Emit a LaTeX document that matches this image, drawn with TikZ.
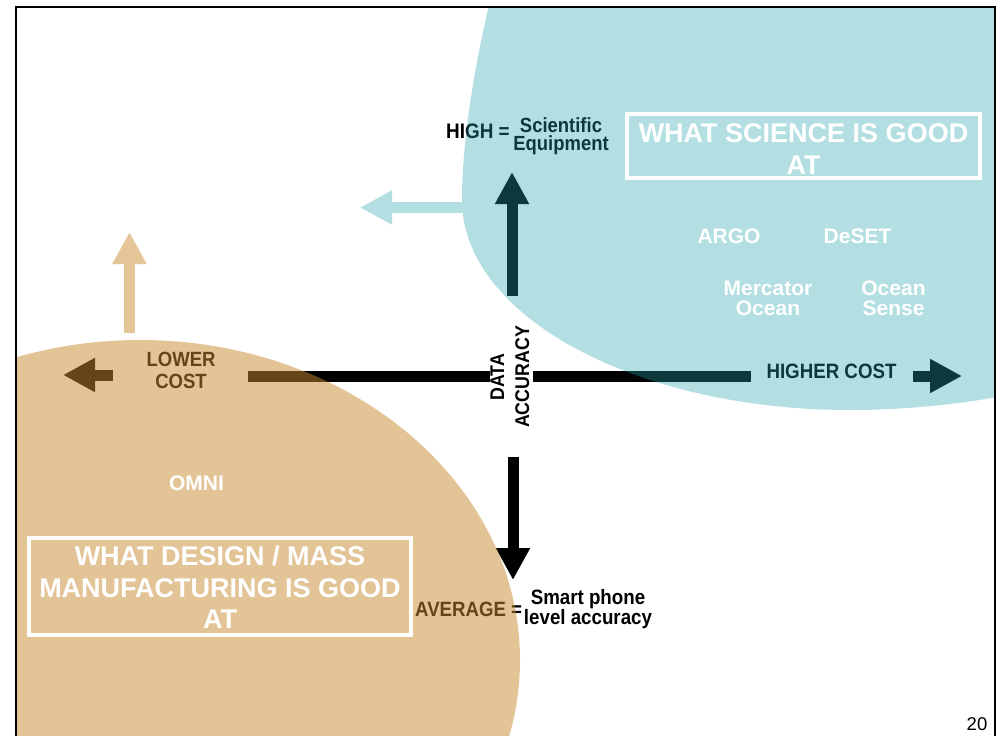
\documentclass[tikz,border=0pt]{standalone}
\usepackage{fontspec}
\setmainfont{Liberation Sans}
\newfontfamily\cnd[FakeStretch=0.9]{Liberation Sans}
\usetikzlibrary{arrows.meta}
\definecolor{tanfill}{RGB}{201,139,49}
\definecolor{tealfill}{RGB}{38,164,175}
\definecolor{tanlight}{RGB}{228,197,152}
\definecolor{teallight}{RGB}{179,223,227}
\begin{document}
\begin{tikzpicture}[x=1pt,y=-1pt,
  lab/.style={inner sep=0pt, align=center, text=black},
  wlab/.style={inner sep=0pt, align=center, text=white, font=\bfseries\fontsize{21}{20}\selectfont},
  bigtxt/.style={inner sep=0pt, align=center, text=white},
  whitebox/.style={draw=white, line width=4pt, inner sep=0pt},
  axisbar/.style={line width=11pt, draw=black},
  blockarrow/.style={line width=11pt, -{Triangle[length=32pt 0 0, width=32pt 0 0]}}
]
\useasboundingbox (0,0) rectangle (1004,736);
\fill[white] (0,0) rectangle (1004,736);

% ---- black layer (tinted later by the translucent regions) ----
\coordinate (lA) at (113,375);  \coordinate (lB) at (63,375);
\coordinate (bA) at (248,376);  \coordinate (bB) at (490,376);
\coordinate (cA) at (533,376);  \coordinate (cB) at (751,376);
\coordinate (rA) at (913,376);  \coordinate (rB) at (962,376);
\coordinate (uA) at (512,296);  \coordinate (uB) at (512,172);
\coordinate (dA) at (513,457);  \coordinate (dB) at (513,580);
\draw[blockarrow, draw=black, fill=black] (lA) -- (lB);
\draw[axisbar] (bA) -- (bB);
\draw[axisbar] (cA) -- (cB);
\draw[blockarrow, draw=black, fill=black] (rA) -- (rB);
\draw[blockarrow, draw=black, fill=black] (uA) -- (uB);
\draw[blockarrow, draw=black, fill=black] (dA) -- (dB);

\node[lab, anchor=base west, font=\cnd\bfseries\fontsize{21}{16}\selectfont] (high) at (446,138) {HIGH =};
\node[lab, font=\cnd\bfseries\fontsize{20.5}{17.5}\selectfont] (sci) at (561,136) {Scientific\\Equipment};
\node[lab, font=\cnd\bfseries\fontsize{20.6}{22.3}\selectfont] (lower) at (181,370.5) {LOWER\\COST};
\node[lab, font=\cnd\bfseries\fontsize{20.8}{20}\selectfont] (higher) at (831.5,371.5) {HIGHER COST};
\node[lab, rotate=90, font=\cnd\bfseries\fontsize{19.8}{25}\selectfont] (acc) at (510,377) {DATA\\ACCURACY};
\node[lab, anchor=base west, font=\cnd\bfseries\fontsize{20.7}{20}\selectfont] (avg) at (415,616.7) {AVERAGE =};
\node[lab, font=\cnd\bfseries\fontsize{20.8}{18.3}\selectfont] (smart) at (588,609) {Smart phone\\level accuracy};

% ---- translucent regions ----
\begin{scope}
\clip (16,7) rectangle (995,740);
\fill[tanfill, fill opacity=0.5] (140,660) ellipse [x radius=380, y radius=320];
\fill[tealfill, fill opacity=0.35] (495,-20) .. controls (475,60) and (462,140) .. (462,200)
   .. controls (462,316) and (636,410) .. (850,410)
   .. controls (920,410) and (990,400) .. (1020,392) -- (1020,-20) -- cycle;
\end{scope}

% ---- light arrows ----
\coordinate (tA) at (465,207.5); \coordinate (tB) at (360,207.5);
\coordinate (nA) at (129.5,333); \coordinate (nB) at (129.5,232);
\draw[blockarrow, draw=teallight, fill=teallight] (tA) -- (tB);
\draw[blockarrow, draw=tanlight, fill=tanlight] (nA) -- (nB);

% ---- white labels and boxes ----
\node[wlab, anchor=base] (argo) at (729,243.3) {ARGO};
\node[wlab, anchor=base] (deset) at (857.5,243.3) {DeSET};
\node[wlab] (merc) at (768,298.5) {Mercator\\Ocean};
\node[wlab] (osense) at (893.5,298.5) {Ocean\\Sense};
\node[wlab, anchor=base] (omni) at (196.5,490.6) {OMNI};

\node[whitebox, minimum width=353pt, minimum height=64pt] (scibox) at (803.5,146) {};
\node[bigtxt, font=\bfseries\fontsize{27}{32}\selectfont] (scitxt) at (803.5,149) {WHAT SCIENCE IS GOOD\\AT};
\node[whitebox, minimum width=382pt, minimum height=97pt] (desbox) at (220,586.5) {};
\node[bigtxt, font=\bfseries\fontsize{27}{31.5}\selectfont] (destxt) at (220,587.5) {WHAT DESIGN / MASS\\MANUFACTURING IS GOOD\\AT};

% ---- frame and page number ----
\draw[line width=1.5pt] (16,745) -- (16,7) -- (995,7) -- (995,745);
\node[lab, anchor=base, font=\fontsize{18.5}{20}\selectfont] (pnum) at (977,730) {20};
\end{tikzpicture}
\end{document}
